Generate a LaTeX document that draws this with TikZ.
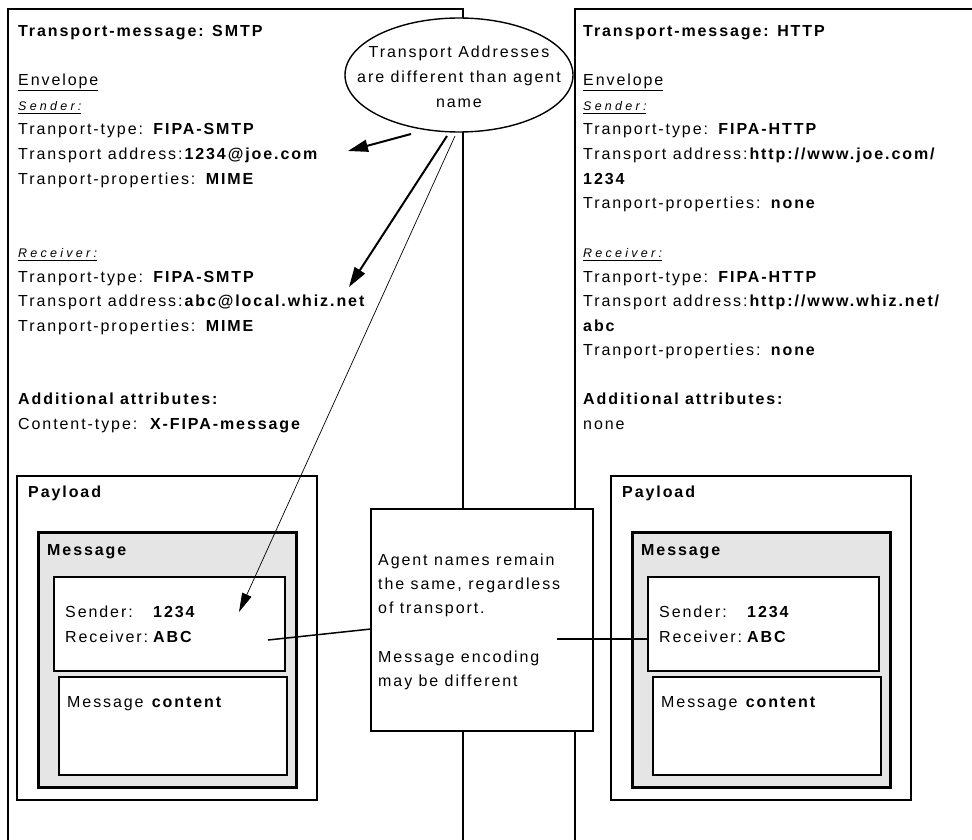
\documentclass[tikz,border=0pt]{standalone}
\usepackage{fontspec}
\setmainfont{Liberation Sans}[LetterSpace=12]
\newfontfamily\widefont{Liberation Sans}[LetterSpace=26]
\usetikzlibrary{arrows.meta}
\tikzset{>={Triangle[length=20pt,width=12pt]}}
\newcommand*{\ul}[2][-5pt]
  {\setbox0\hbox{#2}\rlap{\rule[#1]{\wd0}{1.3pt}}\box0}
\newcommand*{\role}[1]
  {\ul[-3.4pt]{\widefont\itshape\fontsize{12.5}{15}\selectfont #1}}

\begin{document}
\begin{tikzpicture}[x=1pt,y=-1pt,
  txt/.style={anchor=base west,inner sep=0pt,font=\fontsize{16}{19}\selectfont},
  txtb/.style={txt,font=\bfseries\fontsize{16}{19}\selectfont},
  frame/.style={line width=1.5pt},
  msgbox/.style={draw,line width=3pt,fill=black!10},
  ptr/.style={->,line width=2pt},
  thinptr/.style={-{Triangle[length=19pt,width=10pt]},line width=0.7pt}]
\useasboundingbox (0,0) rectangle (972,840);
% transport messages
\draw[frame] (463,850) -- (463,9) -- (8,9) -- (8,850);
\draw[frame] (990,9) -- (575,9) -- (575,850);
\foreach \i/\t in {0/{\textbf{Transport-message: SMTP}},2/{\ul{Envelope}},
  3/{\role{Sender:}},4/{Tranport-type: \textbf{FIPA-SMTP}},
  5/{Transport address:\textbf{1234@joe.com}},6/{Tranport-properties: \textbf{MIME}},
  9/{\role{Receiver:}},10/{Tranport-type: \textbf{FIPA-SMTP}},
  11/{Transport address:\textbf{abc@local.whiz.net}},12/{Tranport-properties: \textbf{MIME}},
  15/{\textbf{Additional attributes:}},16/{Content-type:\ \ \textbf{X-FIPA-message}}}
  \node[txt] (l\i) at (18,37+24.5*\i) {\t};
\foreach \i/\t in {0/{\textbf{Transport-message: HTTP}},2/{\ul{Envelope}},
  3/{\role{Sender:}},4/{Tranport-type: \textbf{FIPA-HTTP}},
  5/{Transport address:\textbf{http://www.joe.com/}},6/{\textbf{1234}},
  7/{Tranport-properties: \textbf{none}},9/{\role{Receiver:}},
  10/{Tranport-type: \textbf{FIPA-HTTP}},11/{Transport address:\textbf{http://www.whiz.net/}},
  12/{\textbf{abc}},13/{Tranport-properties: \textbf{none}},
  15/{\textbf{Additional attributes:}},16/{none}}
  \node[txt] (r\i) at (583,37+24.5*\i) {\t};
% payloads
\foreach \dx/\n in {0/l,594/r}
{
\begin{scope}[xshift=\dx]
\draw[frame] (17,476) rectangle (317,800);
\node[txtb] (\n pay) at (28,497) {Payload};
\draw[msgbox] (38,532) rectangle (296,787);
\node[txtb] (\n msg) at (47,555) {Message};
\draw[frame,fill=white] (54,577) rectangle (285,671);
\node[txt] (\n snd) at (65,617) {\makebox[88pt][l]{Sender:}\textbf{1234}};
\node[txt] (\n rcv) at (65,642) {\makebox[88pt][l]{Receiver:}\textbf{ABC}};
\draw[frame,fill=white] (59,677) rectangle (287,775);
\node[txt] (\n body) at (67,707) {Message \textbf{content}};
\end{scope}
}
% remark in the middle
\draw[frame,fill=white] (371,509) rectangle (593,731);
\foreach \y/\t in {565/{Agent names remain},589/{the same, regardless},
  613/{of transport.},662/{Message encoding},686/{may be different}}
  \node[txt] (m\y) at (378,\y) {\t};
\coordinate (lend) at (268,640);
\coordinate (lside) at (371,629);
\coordinate (rend) at (557,639);
\coordinate (rside) at (649,639);
\draw[frame] (lend) -- (lside);
\draw[frame] (rend) -- (rside);
% note on addresses
\draw[line width=1.4pt,fill=white] (459,75) ellipse [x radius=114,y radius=57];
\node[align=center,font=\fontsize{16}{25}\selectfont] (note) at (459,77)
  {Transport Addresses\\are different than agent\\name};
\coordinate (n1) at (411,134);
\coordinate (n2) at (447,136);
\coordinate (n3) at (455,136);
\coordinate (a1) at (348,151);
\coordinate (a2) at (349,287);
\coordinate (a3) at (239,612);
\draw[ptr] (n1) -- (a1);
\draw[ptr] (n2) -- (a2);
\draw[thinptr] (n3) -- (a3);
\end{tikzpicture}
\end{document}
